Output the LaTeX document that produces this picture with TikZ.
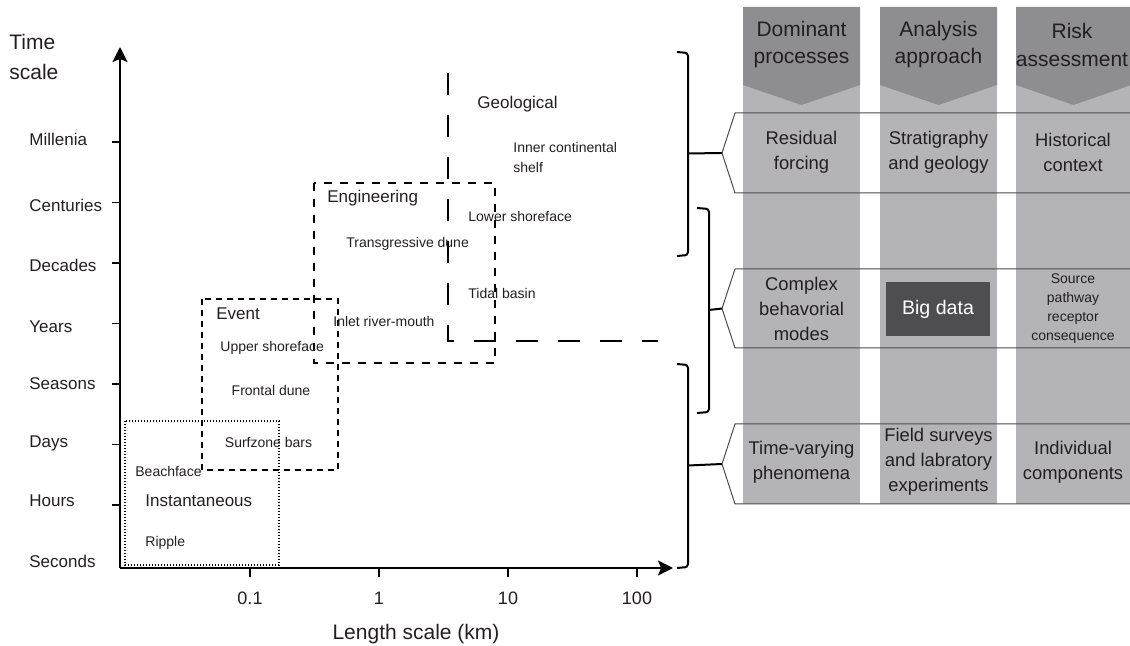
\documentclass[tikz,border=0pt]{standalone}
\usepackage{fontspec}
\setmainfont{Liberation Sans}
\usetikzlibrary{arrows.meta}
\definecolor{colgray}{HTML}{B4B4B7}
\definecolor{headgray}{HTML}{8E8E91}
\definecolor{datagray}{HTML}{4E4E50}
\definecolor{inkgray}{HTML}{231F20}

\begin{document}
\begin{tikzpicture}[x=0.5pt,y=-0.5pt,
  axis/.style={line width=1pt,-{Stealth[length=7.5pt,width=7.5pt,inset=1.5pt]}},
  tick/.style={line width=0.9pt},
  ylab/.style={anchor=west,inner sep=0pt,font=\fontsize{8.5}{10}\selectfont,text=inkgray},
  xlab/.style={inner sep=0pt,font=\fontsize{9}{11}\selectfont,text=inkgray},
  cat/.style={anchor=west,inner sep=0pt,font=\fontsize{8.5}{10}\selectfont,text=inkgray},
  feat/.style={anchor=west,inner sep=0pt,font=\fontsize{7}{9.5}\selectfont,text=inkgray},
  head/.style={align=center,inner sep=0pt,font=\fontsize{10.5}{13.5}\selectfont,text=inkgray},
  cell/.style={align=center,inner sep=0pt,font=\fontsize{9.2}{12.5}\selectfont,text=inkgray},
  small/.style={align=center,inner sep=0pt,font=\fontsize{7}{9.5}\selectfont,text=inkgray},
  brack/.style={line width=1pt,rounded corners=1.5pt},
  band/.style={draw=black!70,line width=0.5pt}]
\useasboundingbox (0,0) rectangle (1130,646);

% columns and their headers
\foreach \xa/\xb in {743/860,880/997,1016/1131}{
  \fill[colgray] (\xa,7) rectangle (\xb,504);
  \fill[headgray] (\xa,7) -- (\xb,7) -- (\xb,85) -- ({(\xa+\xb)/2},105) -- (\xa,85) -- cycle;
}
\node[head] (h1) at (801.5,45) {Dominant\\processes};
\node[head] (h2) at (938.5,45) {Analysis\\approach};
\node[head] (h3) at (1072,45) {Risk\\assessment};

% bands
\coordinate (r1tip) at (722,153);
\coordinate (r2tip) at (722,308.5);
\coordinate (r3tip) at (722,464);
\draw[band] (1131,113) -- (735,113) -- (r1tip) -- (735,193) -- (1131,193);
\draw[band] (1131,269) -- (735,269) -- (r2tip) -- (735,348) -- (1131,348);
\draw[band] (1131,424) -- (735,424) -- (r3tip) -- (735,504) -- (1131,504);

\node[cell] (p1) at (801.5,152) {Residual\\forcing};
\node[cell] (a1) at (938.5,152) {Stratigraphy\\and geology};
\node[cell] (k1) at (1073,152) {Historical\\context};
\node[cell] (p2) at (801.5,309) {Complex\\behavorial\\modes};
\node[fill=datagray,minimum width=52pt,minimum height=27pt,inner sep=0pt,
  text=white,font=\fontsize{9.8}{12}\selectfont] (a2) at (938,309) {Big data};
\node[small] (k2) at (1073,309) {Source\\pathway\\receptor\\consequence};
\node[cell] (p3) at (801.5,462) {Time-varying\\phenomena};
\node[cell] (a3) at (938.5,462) {Field surveys\\and labratory\\experiments};
\node[cell] (k3) at (1073,462) {Individual\\components};

% brackets
\coordinate (b1) at (688,153.5);
\coordinate (b2) at (709,310);
\coordinate (b3) at (688,465.5);
\draw[brack] (677,52) -- (688,53) -- (688,255) -- (677,256);
\draw[brack] (697,208) -- (709,209) -- (709,412) -- (697,413);
\draw[brack] (677,364) -- (688,365) -- (688,567) -- (677,568);
\draw[line width=1pt] (b1) -- (r1tip);
\draw[line width=1pt] (b2) -- (r2tip);
\draw[line width=1pt] (b3) -- (r3tip);

% axes
\coordinate (O) at (120,568);
\coordinate (ytop) at (120,47);
\coordinate (xend) at (673,568);
\draw[axis] (O) -- (ytop);
\draw[axis] (O) -- (xend);
\foreach \y in {505,444.5,384,323.5,263,202.5,142}
  \draw[tick] (112,\y) -- (120,\y);
\foreach \x/\t in {250/0.1,379/1,508/10,637/100}{
  \draw[tick] (\x,568) -- (\x,577);
  \node[xlab] at (\x,598) {\t};
}
\node[anchor=west,inner sep=0pt,align=left,font=\fontsize{10.5}{15}\selectfont,text=inkgray] (tlab) at (9,57) {Time\\scale};
\node[ylab] (mil) at (29,139) {Millenia};
\node[ylab] (cen) at (29,205) {Centuries};
\node[ylab] (dec) at (29,265) {Decades};
\node[ylab] (yrs) at (29,327) {Years};
\node[ylab] (sea) at (29,384) {Seasons};
\node[ylab] (day) at (29,443) {Days};
\node[ylab] (hrs) at (29,501) {Hours};
\node[ylab] (sec) at (29,561) {Seconds};
\node[inner sep=0pt,font=\fontsize{10.5}{12}\selectfont,text=inkgray] (xlab) at (416,634) {Length scale (km)};

% scale boxes
\draw[line width=0.8pt,dash pattern=on 0.6pt off 0.9pt] (125,421) rectangle (279,565);
\draw[line width=0.8pt,dash pattern=on 3pt off 2.5pt] (202,299) rectangle (338,470);
\draw[line width=0.8pt,dash pattern=on 4pt off 4pt] (314,183) rectangle (495,363);
\draw[line width=0.9pt,dash pattern=on 11pt off 10pt] (448,73) -- (448,341) -- (658,341);

\node[cat] (geo) at (477,104) {Geological};
\node[feat,align=left] (ics) at (513,157.5) {Inner continental\\shelf};
\node[cat] (eng) at (327,198) {Engineering};
\node[feat] (lsf) at (468,216) {Lower shoreface};
\node[feat] (tdu) at (346,244) {Transgressive dune};
\node[feat] (tbs) at (468,293) {Tidal basin};
\node[feat] (irm) at (333,321) {Inlet river-mouth};
\node[cat] (evt) at (216,314) {Event};
\node[feat] (usf) at (220,348) {Upper shoreface};
\node[feat,anchor=center] (fdu) at (271,390) {Frontal dune};
\node[feat,anchor=center] (szb) at (268.5,442) {Surfzone bars};
\node[feat] (bfc) at (135,471) {Beachface};
\node[cat] (ins) at (145,501) {Instantaneous};
\node[feat] (rip) at (145,543) {Ripple};
\end{tikzpicture}
\end{document}
